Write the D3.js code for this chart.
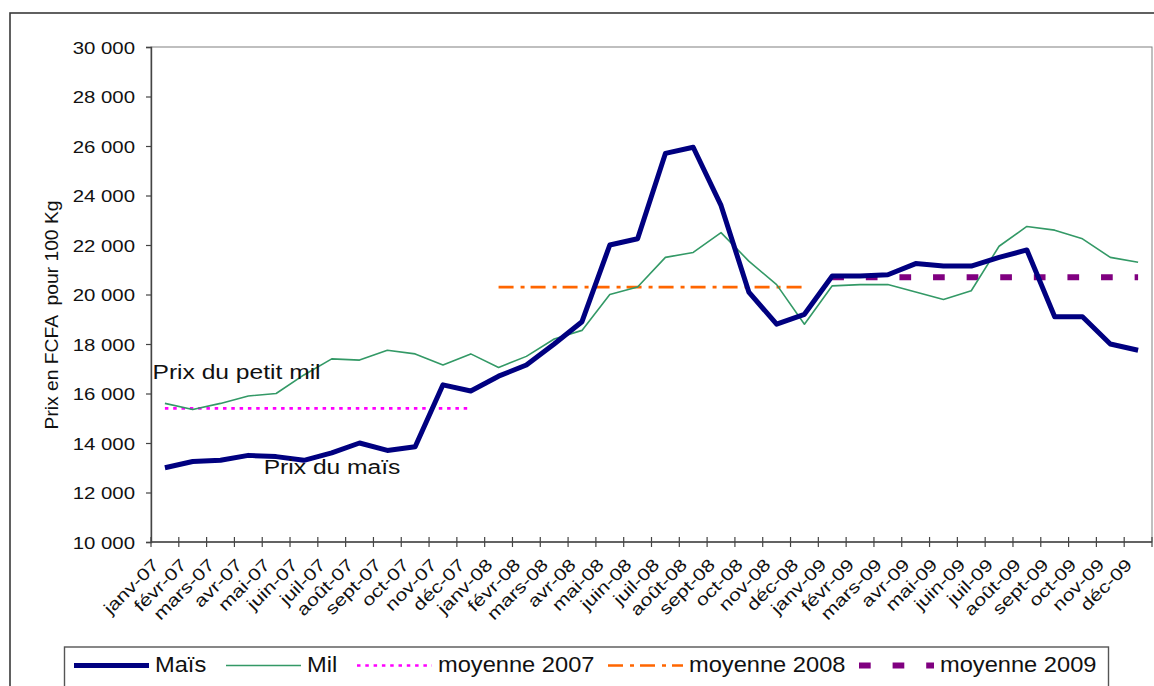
<!DOCTYPE html>
<html>
<head>
<meta charset="utf-8">
<script src="https://cdn.jsdelivr.net/npm/d3@7"></script>
<style>
  html, body { margin: 0; padding: 0; background: #fff; }
  svg { display: block; font-family: Arial, "Liberation Sans", sans-serif; }
</style>
</head>
<body>
<svg id="chart" width="1154" height="686"></svg>
<script>
// Monthly categories (x axis tick labels)
const months = [
  "janv-07","févr-07","mars-07","avr-07","mai-07","juin-07","juil-07","août-07","sept-07","oct-07","nov-07","déc-07",
  "janv-08","févr-08","mars-08","avr-08","mai-08","juin-08","juil-08","août-08","sept-08","oct-08","nov-08","déc-08",
  "janv-09","févr-09","mars-09","avr-09","mai-09","juin-09","juil-09","août-09","sept-09","oct-09","nov-09","déc-09"
];

// Prices in FCFA per 100 kg
const mais = [
  13000,13250,13300,13500,13450,13300,13600,14000,13700,13850,16350,16100,
  16700,17150,18000,18900,22000,22250,25700,25950,23600,20100,18800,19200,
  20750,20750,20800,21250,21150,21150,21500,21800,19100,19100,18000,17750
];
const mil = [
  15600,15350,15600,15900,16000,16750,17400,17350,17750,17600,17150,17600,
  17050,17500,18200,18550,20000,20300,21500,21700,22500,21350,20400,18800,
  20350,20400,20400,20100,19800,20150,21950,22750,22600,22250,21500,21300
];

// Yearly averages, each spanning its own twelve months
const averageNames = ["moyenne 2007", "moyenne 2008", "moyenne 2009"];
const averageValues = [15400, 20300, 20700];
const averageStart = ["janv-07", "janv-08", "janv-09"];
const averageEnd = ["déc-07", "déc-08", "déc-09"];

// Y axis ticks and their labels
const yTickValues = [10000,12000,14000,16000,18000,20000,22000,24000,26000,28000,30000];
const yTickLabels = ["10 000","12 000","14 000","16 000","18 000","20 000","22 000","24 000","26 000","28 000","30 000"];

const yTitle = "Prix en FCFA  pour 100 Kg";
const notes = [
  { text: "Prix du petit mil", month: "janv-07", value: 16600 },
  { text: "Prix du maïs", month: "mai-07", value: 12750 }
];

// Drawing styles per series
const styles = {
  "Maïs":         { color: "#000080", width: 5,   dash: null },
  "Mil":          { color: "#339966", width: 1.6, dash: null },
  "moyenne 2007": { color: "#FF00FF", width: 2.6, dash: "3.5,4.8" },
  "moyenne 2008": { color: "#FF6600", width: 2.6, dash: "15,7,4,6" },
  "moyenne 2009": { color: "#800080", width: 6,   dash: "11.7,21.9" }
};

const svg = d3.select("#chart");
const plot = { left: 151, right: 1152, top: 47, bottom: 542 };

const x = d3.scalePoint().domain(months).range([plot.left, plot.right]).padding(0.5);
const band = d3.scaleBand().domain(months).range([plot.left, plot.right]);
const y = d3.scaleLinear().domain([10000, 30000]).range([plot.bottom, plot.top]);

// outer chart frame
svg.append("rect")
  .attr("x", 10).attr("y", 13).attr("width", 1160).attr("height", 690)
  .attr("fill", "none").attr("stroke", "#3a3a3a").attr("stroke-width", 1.6);

// plot area frame
svg.append("rect")
  .attr("x", plot.left).attr("y", plot.top)
  .attr("width", plot.right - plot.left).attr("height", plot.bottom - plot.top)
  .attr("fill", "none").attr("stroke", "#808080").attr("stroke-width", 1);

// Y axis
const yAxis = d3.axisLeft(y).tickValues(yTickValues)
  .tickFormat((d, i) => yTickLabels[i]).tickSize(5).tickPadding(10);
const gy = svg.append("g").attr("transform", `translate(${plot.left},0)`).call(yAxis);
gy.select(".domain").attr("stroke", "#444").attr("stroke-width", 1.4);
gy.selectAll(".tick line").attr("stroke", "#444").attr("stroke-width", 1.2);
gy.selectAll(".tick text")
  .attr("fill", "#111").attr("font-size", 17)
  .attr("x", null).attr("dy", null)
  .attr("text-anchor", "end")
  .attr("transform", "translate(-16,6) scale(1.2,1)");

// X axis: ticks at category boundaries, crossing the axis line
const boundaries = months.map(m => band(m)).concat([plot.right]);
const gx = svg.append("g");
gx.append("line")
  .attr("x1", plot.left).attr("x2", plot.right)
  .attr("y1", plot.bottom).attr("y2", plot.bottom)
  .attr("stroke", "#444").attr("stroke-width", 1.4);
gx.selectAll("line.tick").data(boundaries).join("line")
  .attr("class", "tick")
  .attr("x1", d => d).attr("x2", d => d)
  .attr("y1", plot.bottom - 5).attr("y2", plot.bottom + 5)
  .attr("stroke", "#444").attr("stroke-width", 1.2);
gx.selectAll("text").data(months).join("text")
  .attr("font-size", 17).attr("fill", "#111")
  .attr("text-anchor", "end")
  .attr("transform", d => `translate(${x(d) - 5},566) rotate(-45) scale(1.25,1)`)
  .text(d => d);

// Y axis title
svg.append("text")
  .attr("transform", "translate(58,315) rotate(-90) scale(1.07,1)")
  .attr("text-anchor", "middle").attr("font-size", 18).attr("fill", "#111")
  .style("white-space", "pre")
  .text(yTitle);

// Average lines
averageNames.forEach((name, i) => {
  const i0 = months.indexOf(averageStart[i]);
  const i1 = months.indexOf(averageEnd[i]);
  const pts = months.slice(i0, i1 + 1).map(m => [x(m), y(averageValues[i])]);
  const s = styles[name];
  svg.append("path")
    .attr("d", d3.line()(pts))
    .attr("fill", "none").attr("stroke", s.color)
    .attr("stroke-width", s.width).attr("stroke-dasharray", s.dash);
});

// Price lines
const line = d3.line().x((d, i) => x(months[i])).y(d => y(d));
svg.append("path").datum(mil)
  .attr("d", line).attr("fill", "none")
  .attr("stroke", styles["Mil"].color).attr("stroke-width", styles["Mil"].width)
  .attr("stroke-linejoin", "round");
svg.append("path").datum(mais)
  .attr("d", line).attr("fill", "none")
  .attr("stroke", styles["Maïs"].color).attr("stroke-width", styles["Maïs"].width)
  .attr("stroke-linejoin", "round");

// Annotations
svg.selectAll("text.note").data(notes).join("text")
  .attr("class", "note")
  .attr("font-size", 20).attr("fill", "#111")
  .attr("transform", d => `translate(${band(d.month) + 1.5},${y(d.value)}) scale(1.23,1)`)
  .text(d => d.text);

// Legend
const legendItems = [
  { name: "Maïs", lx: 74 },
  { name: "Mil", lx: 226 },
  { name: "moyenne 2007", lx: 357 },
  { name: "moyenne 2008", lx: 608 },
  { name: "moyenne 2009", lx: 859 }
];
svg.append("rect")
  .attr("x", 64.5).attr("y", 647).attr("width", 1044).attr("height", 40)
  .attr("fill", "#fff").attr("stroke", "#555").attr("stroke-width", 1.4);
const lg = svg.append("g").selectAll("g").data(legendItems).join("g");
lg.append("line")
  .attr("x1", d => d.lx).attr("x2", d => d.lx + 75)
  .attr("y1", 665.5).attr("y2", 665.5)
  .attr("stroke", d => styles[d.name].color)
  .attr("stroke-width", d => styles[d.name].width)
  .attr("stroke-dasharray", d => styles[d.name].dash);
lg.append("text")
  .attr("transform", d => `translate(${d.lx + 81},672) scale(1.1,1)`)
  .attr("font-size", 21.5).attr("fill", "#111")
  .text(d => d.name);
</script>
</body>
</html>
